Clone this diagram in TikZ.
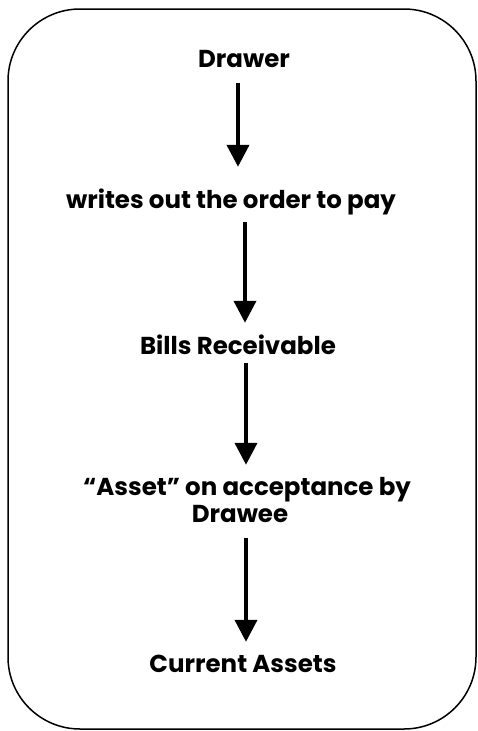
\documentclass[tikz,border=0pt]{standalone}
\usepackage{fontspec}
\setmainfont{Poppins}[BoldFont={* Bold}]
\usepackage{tikz}
\usetikzlibrary{arrows.meta}

\begin{document}
\begin{tikzpicture}[x=1pt,y=-1pt,
  label/.style={font=\bfseries\fontsize{24.5}{28}\selectfont, anchor=base, inner sep=0pt,
    text height=18pt, text depth=5pt},
  flow/.style={line width=4pt, -{Triangle[width=22pt,length=22pt]}}]
\useasboundingbox (0,0) rectangle (478,731);
\draw[line width=1.5pt, rounded corners=72pt] (8,9) rectangle (476,729);

\node[label] (drawer) at (244,67) {Drawer};
\node[label] (writes) at (231,208) {writes out the order to pay};
\node[label] (bills) at (238,354) {Bills Receivable};
\node[label] (asset) at (247,495) {“Asset” on acceptance by};
\node[label] (drawee) at (240,522) {Drawee};
\node[label] (current) at (243,672) {Current Assets};

\draw[flow, shorten <=11pt, shorten >=23pt] ([xshift=-6pt]drawer.south) -- ([xshift=7pt]writes.north);
\draw[flow, shorten <=9pt, shorten >=13pt] ([xshift=14pt]writes.south) -- ([xshift=7pt]bills.north);
\draw[flow, shorten <=4pt, shorten >=12pt] ([xshift=8pt]bills.south) -- ([xshift=-1pt]asset.north);
\draw[flow, shorten <=11pt, shorten >=12pt] ([xshift=6pt]drawee.south) -- ([xshift=3pt]current.north);
\end{tikzpicture}
\end{document}
